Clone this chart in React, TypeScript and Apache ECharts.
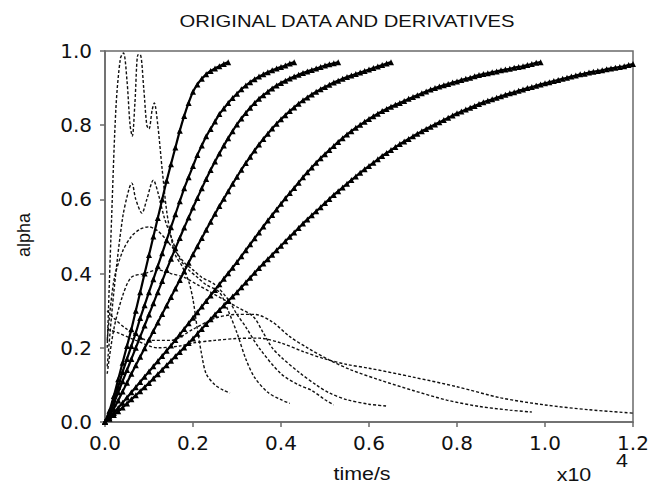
import React, { useEffect, useRef } from "react";
import * as echarts from "echarts";

// Time axis in units of 10^4 s; alpha curves sampled every 0.01 from t = 0
const timeStep = 0.01;
const alpha1 = [0,.03,.07,.115,.16,.205,.25,.30,.35,.40,.45,.50,.55,.60,.65,.695,.74,.785,.825,.86,.89,.91,.925,.937,.946,.953,.959,.965,.97];
const alpha2 = [0,.025,.06,.095,.135,.17,.205,.24,.28,.315,.35,.385,.42,.455,.49,.525,.56,.595,.63,.66,.69,.72,.745,.77,.79,.81,.83,.845,.86,.873,.885,.897,.907,.916,.924,.931,.937,.943,.948,.953,.957,.961,.966,.97];
const alpha3 = [0,.02,.05,.08,.11,.14,.17,.20,.23,.26,.29,.32,.35,.38,.41,.44,.468,.496,.524,.551,.578,.604,.63,.655,.679,.702,.724,.745,.765,.784,.802,.818,.833,.847,.86,.871,.881,.89,.899,.907,.914,.92,.926,.931,.936,.941,.945,.949,.953,.957,.961,.964,.967,.97];
const alpha4 = [0,.015,.036,.058,.082,.106,.13,.153,.176,.199,.222,.245,.268,.291,.314,.337,.36,.383,.406,.429,.452,.474,.496,.518,.54,.561,.582,.602,.622,.642,.661,.68,.698,.715,.732,.748,.763,.777,.791,.804,.816,.827,.838,.848,.858,.867,.875,.883,.89,.897,.903,.909,.915,.92,.925,.93,.934,.938,.942,.946,.95,.954,.958,.962,.966,.97];
const alpha5 = [0,.01,.024,.038,.052,.066,.08,.094,.108,.122,.136,.15,.164,.178,.192,.206,.221,.236,.251,.266,.281,.296,.311,.326,.341,.356,.371,.386,.401,.416,.431,.447,.463,.479,.495,.511,.527,.543,.558,.573,.588,.603,.617,.631,.645,.66,.673,.686,.699,.711,.722,.733,.744,.755,.765,.775,.784,.793,.801,.809,.817,.824,.831,.838,.844,.85,.855,.86,.865,.871,.876,.881,.886,.891,.896,.90,.904,.908,.911,.915,.918,.922,.925,.928,.932,.935,.938,.94,.943,.945,.948,.95,.952,.955,.957,.959,.962,.965,.968,.97];
const alpha6 = [0,.009,.019,.029,.039,.05,.061,.072,.083,.094,.105,.117,.129,.141,.153,.165,.177,.189,.201,.213,.225,.238,.251,.264,.277,.29,.302,.314,.326,.338,.35,.363,.376,.389,.402,.415,.427,.439,.451,.463,.475,.487,.499,.511,.523,.535,.546,.557,.568,.579,.59,.601,.612,.622,.632,.642,.652,.662,.672,.681,.69,.699,.708,.717,.725,.733,.741,.749,.756,.763,.77,.777,.784,.79,.796,.802,.808,.814,.82,.826,.832,.837,.842,.847,.852,.857,.862,.866,.87,.874,.878,.882,.886,.889,.893,.896,.90,.903,.906,.91,.913,.916,.919,.922,.925,.928,.931,.934,.937,.939,.942,.944,.946,.948,.951,.953,.955,.957,.959,.962,.965];

// Derivatives (scaled): [t, value]
const deriv1: number[][] = [[0.005,0.2],[0.015,0.55],[0.025,0.85],[0.035,0.98],[0.042,0.995],[0.05,0.92],[0.057,0.8],[0.062,0.77],[0.068,0.86],[0.075,0.99],[0.08,0.99],[0.088,0.9],[0.095,0.8],[0.1,0.79],[0.107,0.84],[0.112,0.86],[0.12,0.8],[0.13,0.68],[0.14,0.57],[0.15,0.5],[0.16,0.45],[0.175,0.42],[0.19,0.38],[0.2,0.33],[0.21,0.25],[0.22,0.18],[0.23,0.13],[0.25,0.1],[0.27,0.085],[0.284,0.078]];
const deriv2: number[][] = [[0.005,0.15],[0.02,0.35],[0.04,0.55],[0.055,0.63],[0.061,0.644],[0.07,0.6],[0.084,0.563],[0.095,0.6],[0.11,0.652],[0.12,0.62],[0.135,0.55],[0.15,0.5],[0.17,0.44],[0.19,0.41],[0.21,0.39],[0.23,0.37],[0.26,0.35],[0.28,0.3],[0.3,0.24],[0.32,0.17],[0.34,0.12],[0.37,0.08],[0.4,0.06],[0.42,0.05]];
const deriv3: number[][] = [[0.005,0.22],[0.02,0.38],[0.04,0.46],[0.06,0.5],[0.08,0.52],[0.1,0.526],[0.12,0.515],[0.14,0.49],[0.16,0.46],[0.18,0.43],[0.2,0.41],[0.22,0.39],[0.25,0.37],[0.28,0.33],[0.3,0.29],[0.32,0.256],[0.35,0.2],[0.4,0.13],[0.44,0.1],[0.47,0.085],[0.5,0.06],[0.52,0.046]];
const deriv4: number[][] = [[0.005,0.13],[0.02,0.25],[0.04,0.34],[0.06,0.39],[0.09,0.4],[0.12,0.41],[0.15,0.4],[0.18,0.39],[0.21,0.37],[0.24,0.35],[0.27,0.33],[0.3,0.31],[0.337,0.284],[0.36,0.24],[0.38,0.2],[0.4,0.175],[0.443,0.132],[0.48,0.1],[0.51,0.078],[0.55,0.06],[0.6,0.048],[0.64,0.043]];
const deriv5: number[][] = [[0.005,0.3],[0.02,0.28],[0.05,0.25],[0.1,0.22],[0.15,0.22],[0.2,0.25],[0.25,0.28],[0.3,0.29],[0.34,0.29],[0.38,0.27],[0.42,0.23],[0.46,0.2],[0.51,0.167],[0.56,0.14],[0.625,0.113],[0.7,0.085],[0.777,0.059],[0.85,0.042],[0.92,0.032],[0.97,0.027]];
const deriv6: number[][] = [[0.005,0.25],[0.03,0.24],[0.07,0.22],[0.12,0.2],[0.17,0.205],[0.2,0.213],[0.25,0.22],[0.3,0.225],[0.35,0.226],[0.4,0.213],[0.45,0.19],[0.5,0.17],[0.55,0.155],[0.6,0.145],[0.7,0.121],[0.8,0.095],[0.9,0.065],[1.0,0.046],[1.1,0.033],[1.2,0.024]];

const xTicks = [0, 0.2, 0.4, 0.6, 0.8, 1.0, 1.2];
const yTicks = [0, 0.2, 0.4, 0.6, 0.8, 1.0];

const titleText = "ORIGINAL DATA AND DERIVATIVES";
const xName = "time/s";
const yName = "alpha";
const xExponentBase = "x10";
const xExponent = "4";

export default function App() {
  const ref = useRef<HTMLDivElement>(null);
  useEffect(() => {
    if (!ref.current) return;
    const chart = echarts.init(ref.current, null, { renderer: "svg" });
    const alphas = [alpha1, alpha2, alpha3, alpha4, alpha5, alpha6];
    const derivs = [deriv1, deriv2, deriv3, deriv4, deriv5, deriv6];
    const axisColor = "#6a6a6a";
    const labelFont = { fontFamily: "DejaVu Sans", fontSize: 20, color: "#111" };
    const series: any[] = [];
    derivs.forEach((d, i) => {
      series.push({
        type: "line",
        name: "d" + (i + 1),
        data: d,
        showSymbol: false,
        symbol: "none",
        smooth: 0.3,
        lineStyle: { color: "#111", width: 1.4, type: [3, 2] },
        z: 2,
      });
    });
    alphas.forEach((a, i) => {
      series.push({
        type: "line",
        name: "a" + (i + 1),
        data: a.map((v, k) => [+(k * timeStep).toFixed(2), v]),
        symbol: "triangle",
        symbolSize: 6,
        smooth: 0.2,
        itemStyle: { color: "#000" },
        lineStyle: { color: "#000", width: 2.2 },
        z: 3,
      });
    });
    chart.setOption({
      animation: false,
      backgroundColor: "#fff",
      grid: { left: 105, top: 51, width: 528, height: 371, show: true, borderColor: axisColor, borderWidth: 1.5 },
      xAxis: {
        type: "value",
        min: xTicks[0],
        max: xTicks[xTicks.length - 1],
        interval: 0.2,
        axisLine: { show: true, lineStyle: { color: axisColor, width: 1.5 } },
        axisTick: { show: true, inside: false, length: 5, lineStyle: { color: axisColor, width: 1.5 } },
        splitLine: { show: false },
        axisLabel: { ...labelFont, margin: 11, formatter: (v: number) => v.toFixed(1) },
      },
      yAxis: {
        type: "value",
        min: yTicks[0],
        max: yTicks[yTicks.length - 1],
        interval: 0.2,
        axisLine: { show: true, lineStyle: { color: axisColor, width: 1.5 } },
        axisTick: { show: true, inside: false, length: 5, lineStyle: { color: axisColor, width: 1.5 } },
        splitLine: { show: false },
        axisLabel: { ...labelFont, margin: 13, formatter: (v: number) => v.toFixed(1) },
      },
      graphic: [
        {
          type: "text", x: 347, y: 21, scaleX: 1.19,
          style: { text: titleText, fontFamily: "Liberation Sans", fontSize: 17, fill: "#111", textAlign: "center", textVerticalAlign: "middle" },
        },
        {
          type: "text", x: 362, y: 474, scaleX: 1.19,
          style: { text: xName, fontFamily: "Liberation Sans", fontSize: 18, fill: "#111", textAlign: "center", textVerticalAlign: "middle" },
        },
        {
          type: "text", x: 574, y: 475, scaleX: 1.19,
          style: { text: xExponentBase, fontFamily: "Liberation Sans", fontSize: 18, fill: "#111", textAlign: "center", textVerticalAlign: "middle" },
        },
        {
          type: "text", x: 622, y: 461, scaleX: 1.19,
          style: { text: xExponent, fontFamily: "Liberation Sans", fontSize: 18, fill: "#111", textAlign: "center", textVerticalAlign: "middle" },
        },
        {
          type: "text", x: 24, y: 235, rotation: Math.PI / 2,
          style: { text: yName, fontFamily: "Liberation Sans", fontSize: 18, fill: "#111", textAlign: "center", textVerticalAlign: "middle" },
        },
      ],
      series,
    });
    return () => chart.dispose();
  }, []);
  return <div ref={ref} style={{ position: "absolute", left: 0, top: 0, width: 654, height: 485 }} />;
}
